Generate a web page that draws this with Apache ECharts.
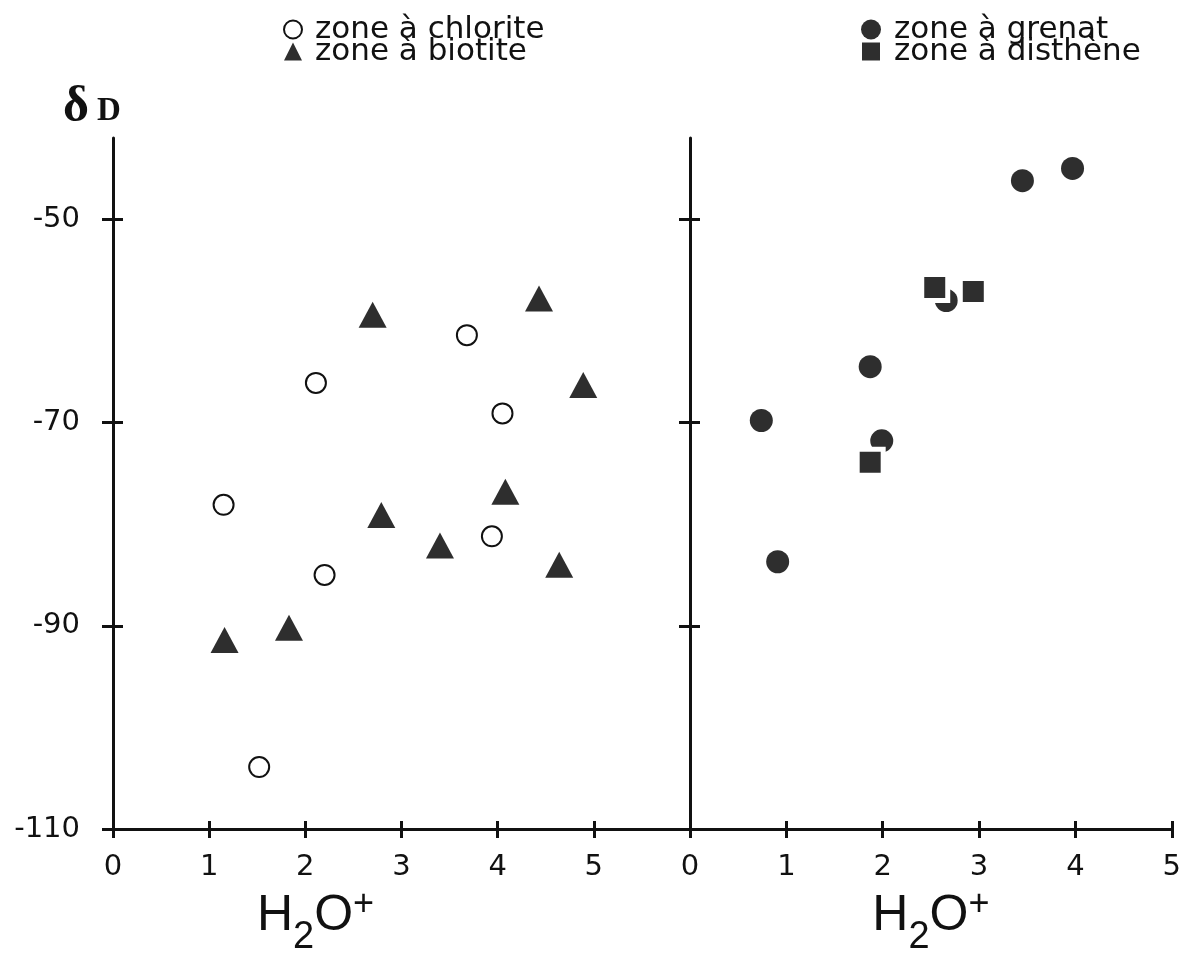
<!DOCTYPE html>
<html>
<head>
<meta charset="utf-8">
<script src="https://cdn.jsdelivr.net/npm/echarts@6/dist/echarts.min.js"></script>
<style>
html, body { margin: 0; background: #fff; }
#chart { width: 1184px; height: 962px; }
</style>
</head>
<body>
<div id="chart"></div>
<script>
// left panel: zone à chlorite (open circles)
let chloriteH2O = [3.68, 2.11, 4.05, 1.15, 3.94, 2.20, 1.52];
let chloriteDD = [-61.4, -66.1, -69.1, -78.1, -81.2, -85.0, -103.9];
// left panel: zone à biotite (triangles)
let biotiteH2O = [2.70, 4.43, 4.89, 4.08, 2.79, 3.40, 4.64, 1.16, 1.83];
let biotiteDD = [-59.4, -57.8, -66.3, -76.8, -79.1, -82.1, -84.0, -91.4, -90.2];
// right panel: zone à grenat (filled circles)
let grenatH2O = [3.97, 3.45, 1.87, 0.74, 0.91, 2.66, 1.99];
let grenatDD = [-45.0, -46.2, -64.5, -69.8, -83.7, -58.0, -71.8];
// right panel: zone à disthène (squares)
let disthenH2O = [2.54, 2.94, 1.87];
let disthenDD = [-56.7, -57.1, -73.9];

let yTicks = [-110, -90, -70, -50];
let xTicks = [0, 1, 2, 3, 4, 5];

function pairs(xs, ys) {
    return xs.map(function (x, i) { return [x, ys[i]]; });
}

let ink = '#111';
let fill = '#2e2e2e';
let tickFont = 'DejaVu Sans';

// H2O+ written with sub/superscript pieces
let h2oRich = {
    b: { fontSize: 50, fontFamily: 'Liberation Sans', color: ink, verticalAlign: 'top', lineHeight: 50 },
    s: { fontSize: 38, fontFamily: 'Liberation Sans', color: ink, verticalAlign: 'top', lineHeight: 38, padding: [28, 0, 0, 0] },
    p: { fontSize: 36, fontFamily: 'Liberation Sans', color: ink, verticalAlign: 'top', lineHeight: 36, padding: [-4, 0, 0, 0] }
};
let h2oName = '{b|H}{s|2}{b|O}{p|+}';

function mainX(grid, max, name, pad) {
    return {
        gridIndex: grid, type: 'value', position: 'bottom', min: 0, max: max,
        name: name, nameLocation: 'middle', nameGap: 62,
        nameTextStyle: { rich: h2oRich, padding: pad },
        axisLine: { onZero: false, lineStyle: { color: ink, width: 3 } },
        axisTick: { length: 9, lineStyle: { color: ink, width: 3 },
            customValues: max === 6 ? [0, 1, 2, 3, 4, 5, 6] : xTicks },
        axisLabel: { margin: 24, fontSize: 29, fontFamily: tickFont, color: ink, customValues: xTicks },
        splitLine: { show: false }
    };
}
function innerX(grid, max) {
    return {
        gridIndex: grid, type: 'value', position: 'bottom', min: 0, max: max,
        axisLine: { show: false, onZero: false },
        axisTick: { inside: true, length: 8, lineStyle: { color: ink, width: 3 }, customValues: [1, 2, 3, 4, 5] },
        axisLabel: { show: false },
        splitLine: { show: false }
    };
}
function mainY(grid, labels) {
    return {
        gridIndex: grid, type: 'value', position: 'left', min: -110, max: -42,
        axisLine: { onZero: false, lineStyle: { color: ink, width: 3 } },
        axisTick: { length: 11, lineStyle: { color: ink, width: 3 }, customValues: grid === 0 ? yTicks : [-90, -70, -50] },
        axisLabel: { show: labels, margin: 33, fontSize: 29, fontFamily: tickFont, color: ink, customValues: yTicks },
        splitLine: { show: false }
    };
}
function innerY(grid) {
    return {
        gridIndex: grid, type: 'value', position: 'left', min: -110, max: -42,
        axisLine: { show: false, onZero: false },
        axisTick: { inside: true, length: 10, lineStyle: { color: ink, width: 3 }, customValues: [-90, -70, -50] },
        axisLabel: { show: false },
        splitLine: { show: false }
    };
}

let legendText = { fontFamily: 'DejaVu Sans', fontSize: 31, color: ink, padding: [0, 0, 0, 8] };

let chart = echarts.init(document.getElementById('chart'));
let option = {
    animation: false,
    backgroundColor: '#fff',
    title: {
        text: '{d|δ}{D|D}',
        left: 58, top: 78,
        textStyle: {
            rich: {
                d: { fontFamily: 'Liberation Serif', fontSize: 50, color: ink, verticalAlign: 'bottom' },
                D: { fontFamily: 'Liberation Serif', fontWeight: 'bold', fontSize: 33, color: ink, verticalAlign: 'bottom', padding: [0, 0, 5, 8] }
            }
        }
    },
    legend: [
        {
            data: ['zone à chlorite', 'zone à biotite'],
            orient: 'vertical', left: 278, top: 9,
            itemWidth: 18, itemHeight: 18, itemGap: -9,
            textStyle: legendText
        },
        {
            data: ['zone à grenat', 'zone à disthène'],
            orient: 'vertical', left: 855, top: 9,
            itemWidth: 20, itemHeight: 20, itemGap: -9,
            textStyle: legendText
        }
    ],
    grid: [
        { left: 113, top: 138, width: 577, height: 691 },
        { left: 690, top: 138, width: 482, height: 691 }
    ],
    xAxis: [
        mainX(0, 6, h2oName, [0, 172, 0, 0]),
        innerX(0, 6),
        mainX(1, 5, h2oName, [0, 0, 0, 0]),
        innerX(1, 5)
    ],
    yAxis: [
        mainY(0, true),
        innerY(0),
        mainY(1, false),
        innerY(1)
    ],
    series: [
        {
            name: 'zone à chlorite', type: 'scatter', xAxisIndex: 0, yAxisIndex: 0,
            symbol: 'emptyCircle', symbolSize: 20,
            itemStyle: { color: ink, borderColor: ink, borderWidth: 3, opacity: 1 },
            data: pairs(chloriteH2O, chloriteDD)
        },
        {
            name: 'zone à biotite', type: 'scatter', xAxisIndex: 0, yAxisIndex: 0,
            symbol: 'triangle', symbolSize: [28, 26],
            itemStyle: { color: fill, opacity: 1 },
            data: pairs(biotiteH2O, biotiteDD)
        },
        {
            name: 'zone à grenat', type: 'scatter', xAxisIndex: 2, yAxisIndex: 2,
            symbol: 'circle', symbolSize: 23,
            itemStyle: { color: fill, opacity: 1 },
            data: pairs(grenatH2O, grenatDD)
        },
        {
            name: 'zone à disthène', type: 'scatter', xAxisIndex: 2, yAxisIndex: 2,
            symbol: 'rect', symbolSize: 26,
            itemStyle: { color: fill, borderColor: '#fff', borderWidth: 5, opacity: 1 },
            data: pairs(disthenH2O, disthenDD)
        }
    ]
};
chart.setOption(option);
</script>
</body>
</html>
